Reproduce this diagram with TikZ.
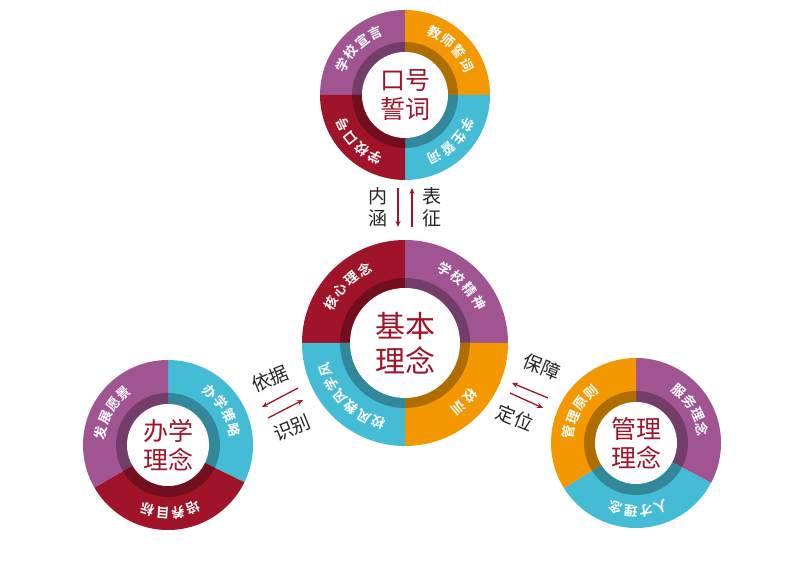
\documentclass[tikz,border=0pt]{standalone}
\usepackage{fontspec}
\newfontfamily\cjk{Noto Sans CJK SC}
\newfontfamily\cjkb{Noto Sans CJK SC Bold}
\usetikzlibrary{arrows.meta,calc}
\definecolor{cpur}{HTML}{A05492}
\definecolor{cora}{HTML}{F39800}
\definecolor{ccya}{HTML}{45BCD6}
\definecolor{cred}{HTML}{A01429}
\newcommand\seg[6]{%
  \fill[#6] (#1,#2) -- ++(#4:#3) arc (#4:#5:#3) -- cycle;
  \fill[#6!72!black] (#1,#2) -- ++(#4:\bandR) arc (#4:#5:\bandR) -- cycle;}
\newcommand\arctxt[6]{%
  \foreach \ch [count=\i] in {#6} {\xdef\nn{\i}}
  \foreach \ch [count=\i] in {#6} {
    \pgfmathsetmacro\ang{#4+(\nn-1)*#5/2-(\i-1)*#5}
    \node[segtxt,rotate=\ang-90] at ($(#1,#2)+(\ang:#3)$) {\ch};}}
\tikzset{
 segtxt/.style={text=white,font=\cjkb\fontsize{13.5}{13.5}\selectfont,inner sep=0pt},
 ctr/.style={text=cred,font=\cjk\fontsize{25}{29}\selectfont,align=center,inner sep=0pt},
 lab/.style={text=black!85,font=\cjk\fontsize{19}{22}\selectfont,align=center,inner sep=0pt},
 arr/.style={draw=cred,line width=1.3pt,-{Stealth[length=6pt,width=5pt]}}}
\begin{document}
\begin{tikzpicture}[x=1pt,y=1pt]
\useasboundingbox[fill=white] (0,0) rectangle (795,569);
% top ring
\def\bandR{53pt}
\seg{405}{474}{85pt}{90}{180}{cpur}
\seg{405}{474}{85pt}{0}{90}{cora}
\seg{405}{474}{85pt}{-90}{0}{ccya}
\seg{405}{474}{85pt}{180}{270}{cred}
\fill[white] (405,474) circle[radius=43pt];
\node[ctr,font=\cjk\fontsize{25}{29}\selectfont] (top) at (405,474) {口号\\誓词};
\arctxt{405}{474}{69pt}{135}{13}{学,校,宣,言}
\arctxt{405}{474}{69pt}{45}{13}{教,师,誓,词}
\arctxt{405}{474}{69pt}{-45}{13}{学,生,誓,词}
\arctxt{405}{474}{69pt}{-135}{13}{学,校,口,号}
% center ring
\def\bandR{65pt}
\seg{405}{226}{103pt}{90}{180}{cred}
\seg{405}{226}{103pt}{0}{90}{cpur}
\seg{405}{226}{103pt}{-90}{0}{cora}
\seg{405}{226}{103pt}{180}{270}{ccya}
\fill[white] (405,226) circle[radius=55pt];
\node[ctr,font=\cjk\fontsize{30}{35}\selectfont] (mid) at (405,226) {基本\\理念};
\arctxt{405}{226}{84pt}{135}{11}{核,心,理,念}
\arctxt{405}{226}{84pt}{45}{11}{学,校,精,神}
\arctxt{405}{226}{84pt}{-45}{11}{校,训}
\arctxt{405}{226}{84pt}{-135}{10.5}{校,风,教,风,学,风}
% left ring
\def\bandR{52pt}
\seg{168}{124}{85pt}{-26}{90}{ccya}
\seg{168}{124}{85pt}{-150}{-26}{cred}
\seg{168}{124}{85pt}{90}{210}{cpur}
\fill[white] (168,124) circle[radius=41pt];
\node[ctr] (lft) at (168,124) {办学\\理念};
\arctxt{168}{124}{68pt}{150}{13}{发,展,愿,景}
\arctxt{168}{124}{68pt}{32}{13}{办,学,策,略}
\arctxt{168}{124}{68pt}{-88}{13}{培,养,目,标}
% right ring
\seg{636}{126}{85pt}{-28}{90}{cpur}
\seg{636}{126}{85pt}{-148}{-28}{ccya}
\seg{636}{126}{85pt}{90}{212}{cora}
\fill[white] (636,126) circle[radius=41pt];
\node[ctr] (rgt) at (636,126) {管理\\理念};
\arctxt{636}{126}{68pt}{31}{13}{服,务,理,念}
\arctxt{636}{126}{68pt}{-88}{13}{人,才,理,念}
\arctxt{636}{126}{68pt}{151}{13}{管,理,原,则}
% arrows and labels
\coordinate (t1) at (398,381); \coordinate (t2) at (398,342);
\coordinate (t3) at (412,342); \coordinate (t4) at (412,381);
\draw[arr] (t1) -- (t2); \draw[arr] (t3) -- (t4);
\node[lab] (l1) at (378,362) {内\\涵};
\node[lab] (l2) at (432,362) {表\\征};
\coordinate (a1) at (298,181); \coordinate (a2) at (262,162);
\coordinate (a3) at (268,151); \coordinate (a4) at (303,169);
\draw[arr] (a1) -- (a2); \draw[arr] (a3) -- (a4);
\node[lab,rotate=22] (l3) at (270,190) {依据};
\node[lab,rotate=22] (l4) at (292,141) {识别};
\coordinate (b1) at (548,171); \coordinate (b2) at (512,186);
\coordinate (b3) at (510,176); \coordinate (b4) at (543,161);
\draw[arr] (b1) -- (b2); \draw[arr] (b3) -- (b4);
\node[lab,rotate=-22] (l5) at (542,202) {保障};
\node[lab,rotate=-22] (l6) at (515,151) {定位};
\end{tikzpicture}
\end{document}
